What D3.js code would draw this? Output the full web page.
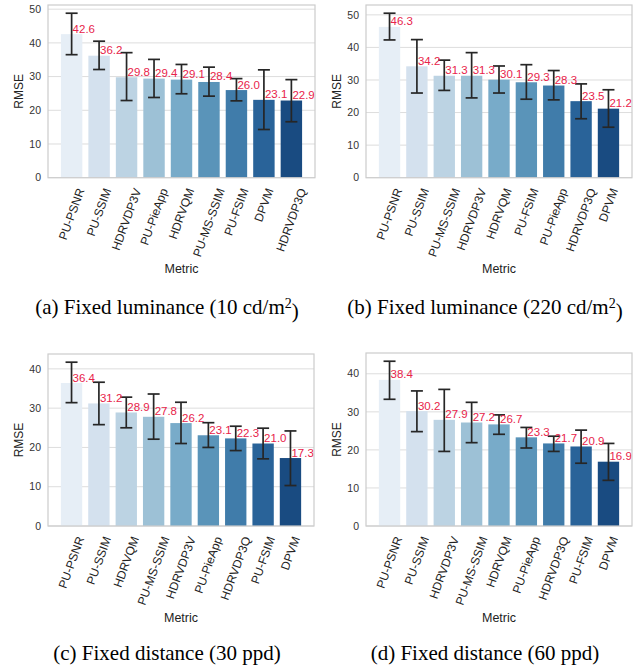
<!DOCTYPE html>
<html>
<head>
<meta charset="utf-8">
<script src="https://cdn.jsdelivr.net/npm/d3@7"></script>
<style>
  body { margin: 0; background: #fff; }
  svg { display: block; }
</style>
</head>
<body>
<div id="chart"></div>
<script>
// (a) fixed luminance 10 cd/m2
const metricsA = ["PU-PSNR", "PU-SSIM", "HDRVDP3V", "PU-PieApp", "HDRVQM", "PU-MS-SSIM", "PU-FSIM", "DPVM", "HDRVDP3Q"];
const rmseA    = [42.6, 36.2, 29.8, 29.4, 29.1, 28.4, 26.0, 23.1, 22.9];
const lowA     = [36.5, 32.1, 22.9, 23.8, 24.9, 24.2, 22.8, 14.3, 16.6];
const highA    = [48.8, 40.5, 37.1, 35.1, 33.6, 32.8, 29.4, 32.0, 29.1];

// (b) fixed luminance 220 cd/m2
const metricsB = ["PU-PSNR", "PU-SSIM", "PU-MS-SSIM", "HDRVDP3V", "HDRVQM", "PU-FSIM", "PU-PieApp", "HDRVDP3Q", "DPVM"];
const rmseB    = [46.3, 34.2, 31.3, 31.3, 30.1, 29.3, 28.3, 23.5, 21.2];
const lowB     = [42.3, 26.0, 26.8, 24.5, 26.0, 24.1, 23.9, 18.1, 15.5];
const highB    = [50.5, 42.4, 36.1, 38.4, 34.3, 34.7, 32.9, 28.8, 27.0];

// (c) fixed distance 30 ppd
const metricsC = ["PU-PSNR", "PU-SSIM", "HDRVQM", "PU-MS-SSIM", "HDRVDP3V", "PU-PieApp", "HDRVDP3Q", "PU-FSIM", "DPVM"];
const rmseC    = [36.4, 31.2, 28.9, 27.8, 26.2, 23.1, 22.3, 21.0, 17.3];
const lowC     = [31.4, 25.8, 25.0, 22.1, 21.0, 20.0, 19.2, 17.1, 10.3];
const highC    = [41.7, 36.6, 32.8, 33.6, 31.5, 26.3, 25.4, 24.9, 24.2];

// (d) fixed distance 60 ppd
const metricsD = ["PU-PSNR", "PU-SSIM", "HDRVDP3V", "PU-MS-SSIM", "HDRVQM", "PU-PieApp", "HDRVDP3Q", "PU-FSIM", "DPVM"];
const rmseD    = [38.4, 30.2, 27.9, 27.2, 26.7, 23.3, 21.7, 20.9, 16.9];
const lowD     = [33.3, 24.8, 19.6, 21.9, 24.1, 20.5, 19.6, 16.5, 12.0];
const highD    = [43.3, 35.5, 35.9, 32.5, 29.2, 25.9, 23.6, 25.2, 21.7];

const yTicks = [0, 10, 20, 30, 40, 50];

const captions = [
  ["(a) Fixed luminance (10 cd/m", "2", ")"],
  ["(b) Fixed luminance (220 cd/m", "2", ")"],
  ["(c) Fixed distance (30 ppd)"],
  ["(d) Fixed distance (60 ppd)"]
];

const panels = [
  { metrics: metricsA, rmse: rmseA, low: lowA, high: highA, caption: captions[0],
    left: 48, right: 315, top: 5, bottom: 177.7, ylabX: 19, metricY: 269, capX: 167, capY: 307 },
  { metrics: metricsB, rmse: rmseB, low: lowB, high: highB, caption: captions[1],
    left: 366, right: 632, top: 5, bottom: 177.7, ylabX: 337, metricY: 269, capX: 485, capY: 307 },
  { metrics: metricsC, rmse: rmseC, low: lowC, high: highC, caption: captions[2],
    left: 48, right: 314, top: 354, bottom: 526, ylabX: 19, metricY: 618, capX: 167, capY: 653 },
  { metrics: metricsD, rmse: rmseD, low: lowD, high: highD, caption: captions[3],
    left: 366, right: 632, top: 353, bottom: 526, ylabX: 337, metricY: 618, capX: 485, capY: 653 }
];

// seaborn "Blues" palette, desaturated like barplot does (0.75)
const blues = ["#f7fbff","#deebf7","#c6dbef","#9ecae1","#6baed6","#4292c6","#2171b5","#08519c","#08306b"];
const bluesScale = d3.scaleLinear().domain(d3.range(9).map(i => i / 8)).range(blues).interpolate(d3.interpolateRgb);
const palette = d3.range(1, 10).map(i => {
  const c = d3.hsl(bluesScale(i / 10));
  c.s *= 0.75;
  return c.formatHex();
});

const svg = d3.select("#chart")
  .append("svg")
    .attr("width", 639)
    .attr("height", 666);

const sans = "'Liberation Sans', Arial, sans-serif";

panels.forEach(p => {
  const g = svg.append("g");
  const n = p.metrics.length;

  const x = d3.scaleLinear()
    .domain([-0.86, n - 1 + 0.86])
    .range([p.left, p.right]);

  const y = d3.scaleLinear()
    .domain([0, d3.max(p.high) * 1.05])
    .range([p.bottom, p.top]);

  const ticks = yTicks.filter(t => t <= y.domain()[1]);

  // grid
  g.selectAll("line.grid")
    .data(ticks)
    .enter().append("line")
      .attr("x1", p.left).attr("x2", p.right)
      .attr("y1", d => y(d)).attr("y2", d => y(d))
      .attr("stroke", "#dddddd")
      .attr("stroke-width", 1);

  // y tick labels
  g.selectAll("text.ytick")
    .data(ticks)
    .enter().append("text")
      .attr("x", p.left - 7)
      .attr("y", d => y(d))
      .attr("dy", "0.35em")
      .attr("text-anchor", "end")
      .attr("font-family", sans)
      .attr("font-size", 10.5)
      .attr("fill", "#333")
      .text(d => d);

  // bars
  const bw = 0.78;
  g.selectAll("rect.bar")
    .data(p.rmse)
    .enter().append("rect")
      .attr("x", (d, i) => x(i - bw / 2))
      .attr("width", x(bw) - x(0))
      .attr("y", d => y(d))
      .attr("height", d => y(0) - y(d))
      .attr("fill", (d, i) => palette[i]);

  // error bars
  const cap = 6;
  const eb = g.selectAll("g.err")
    .data(p.rmse.map((d, i) => ({ i, lo: p.low[i], hi: p.high[i] })))
    .enter().append("g")
      .attr("stroke", "#262626")
      .attr("stroke-width", 1.7);
  eb.append("line")
    .attr("x1", d => x(d.i)).attr("x2", d => x(d.i))
    .attr("y1", d => y(d.lo)).attr("y2", d => y(d.hi));
  eb.append("line")
    .attr("x1", d => x(d.i) - cap).attr("x2", d => x(d.i) + cap)
    .attr("y1", d => y(d.lo)).attr("y2", d => y(d.lo));
  eb.append("line")
    .attr("x1", d => x(d.i) - cap).attr("x2", d => x(d.i) + cap)
    .attr("y1", d => y(d.hi)).attr("y2", d => y(d.hi));

  // value labels
  g.selectAll("text.val")
    .data(p.rmse)
    .enter().append("text")
      .attr("x", (d, i) => x(i) + 1)
      .attr("y", d => y(d) - 1.5)
      .attr("font-family", sans)
      .attr("font-size", 11.5)
      .attr("fill", "#e8234a")
      .text(d => d.toFixed(1));

  // frame
  g.append("rect")
    .attr("x", p.left).attr("y", p.top)
    .attr("width", p.right - p.left)
    .attr("height", p.bottom - p.top)
    .attr("fill", "none")
    .attr("stroke", "#cccccc")
    .attr("stroke-width", 1.2);

  // rotated category labels, bbox centred on the tick (matplotlib style)
  const ang = 70 * Math.PI / 180;
  const catSize = 12;
  g.selectAll("text.cat")
    .data(p.metrics)
    .enter().append("text")
      .attr("font-family", sans)
      .attr("font-size", catSize)
      .attr("fill", "#222")
      .attr("text-anchor", "middle")
      .attr("dominant-baseline", "central")
      .text(d => d)
      .each(function(d, i) {
        const L = this.getComputedTextLength();
        const bh = L * Math.sin(ang) + catSize * Math.cos(ang);
        const cx = x(i), cy = p.bottom + 9 + bh / 2;
        d3.select(this)
          .attr("transform", `translate(${cx},${cy}) rotate(-70)`);
      });

  // axis labels
  g.append("text")
    .attr("x", (p.left + p.right) / 2)
    .attr("y", p.metricY)
    .attr("dy", "0.35em")
    .attr("text-anchor", "middle")
    .attr("font-family", sans)
    .attr("font-size", 12.5)
    .attr("fill", "#222")
    .text("Metric");

  g.append("text")
    .attr("transform", `translate(${p.ylabX},${(p.top + p.bottom) / 2}) rotate(-90)`)
    .attr("dy", "0.35em")
    .attr("text-anchor", "middle")
    .attr("font-family", sans)
    .attr("font-size", 12)
    .attr("fill", "#222")
    .text("RMSE");

  // caption
  const cap_t = g.append("text")
    .attr("x", p.capX)
    .attr("y", p.capY)
    .attr("dy", "0.35em")
    .attr("text-anchor", "middle")
    .attr("font-family", "'Liberation Serif', 'Times New Roman', serif")
    .attr("font-size", 21)
    .attr("fill", "#000");
  cap_t.append("tspan").text(p.caption[0]);
  if (p.caption.length > 1) {
    cap_t.append("tspan").attr("dy", "-0.45em").attr("font-size", 14).text(p.caption[1]);
    cap_t.append("tspan").attr("dy", "0.45em").text(p.caption[2]);
  }
});
</script>
</body>
</html>
